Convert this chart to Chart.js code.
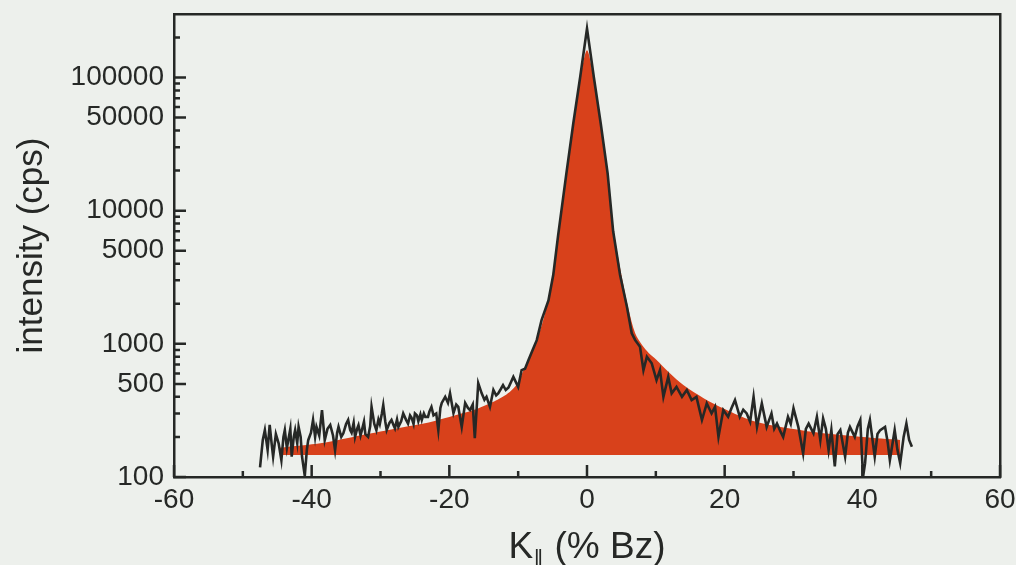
<!DOCTYPE html>
<html>
<head>
<meta charset="utf-8">
<script src="https://cdn.jsdelivr.net/npm/chart.js@4.4.1/dist/chart.umd.min.js"></script>
<style>
  html, body { margin: 0; padding: 0; background: #edf0ec; }
  canvas { display: block; }
</style>
</head>
<body>
<canvas id="chart" width="1016" height="565"></canvas>
<script>
// measured counts (black trace)
const dataX = [
  -47.5, -47.1, -46.8, -46.4, -46.1, -45.8, -45.6, -45.2, -44.8, -44.4,
  -44.1, -43.9, -43.6, -43.4, -43.1, -42.9, -42.6, -42.4, -42.1, -41.9,
  -41.6, -41.4, -41.0, -40.7, -40.5, -40.1, -39.8, -39.5, -39.3, -38.9,
  -38.5, -38.1, -37.7, -37.3, -36.9, -36.6, -36.3, -36.1, -35.7, -35.4,
  -35.0, -34.7, -34.4, -34.2, -33.9, -33.7, -33.4, -33.2, -32.9, -32.7,
  -32.4, -32.2, -31.8, -31.5, -31.3, -30.9, -30.6, -30.3, -30.1, -29.8,
  -29.6, -29.3, -29.1, -28.7, -28.4, -28.1, -27.9, -27.6, -27.4, -27.0,
  -26.7, -26.3, -26.0, -25.7, -25.5, -25.2, -25.0, -24.7, -24.5, -24.2,
  -24.0, -23.7, -23.5, -23.1, -22.9, -22.6, -22.3, -21.9, -21.6, -21.3,
  -21.1, -20.6, -20.2, -19.9, -19.4, -19.0, -18.7, -18.2, -17.7, -17.3,
  -17.0, -16.6, -16.3, -15.8, -15.3, -14.9, -14.6, -14.1, -13.6, -13.2,
  -12.9, -12.5, -12.2, -11.8, -11.4, -10.7, -10.0, -9.5, -9.0, -8.5,
  -7.9, -7.3, -6.6, -5.6, -4.9, -4.2, -3.0, -2.0, -1.0, 0.0,
  1.0, 2.0, 3.0, 3.8, 4.8, 5.8, 6.5, 7.0, 7.7, 8.2,
  8.7, 9.4, 10.1, 10.6, 11.1, 11.8, 12.3, 13.0, 13.8, 14.5,
  15.2, 15.9, 16.7, 17.4, 18.1, 18.6, 19.1, 19.8, 20.5, 21.0,
  21.5, 22.2, 22.7, 23.2, 23.7, 24.2, 24.7, 25.4, 26.1, 26.8,
  27.2, 27.6, 28.1, 28.5, 29.2, 29.6, 30.0, 30.7, 31.4, 31.8,
  32.2, 32.9, 33.4, 33.9, 34.3, 34.7, 35.1, 35.5, 36.0, 36.4,
  36.8, 37.5, 37.9, 38.2, 38.9, 39.3, 39.7, 40.1, 40.4, 40.8,
  41.1, 41.8, 42.2, 42.6, 43.3, 43.7, 44.0, 44.7, 45.1, 45.5,
  46.0, 46.4, 46.8, 47.2
];
const dataY = [
  118, 190, 225, 160, 246, 175, 142, 210, 179, 134,
  200, 225, 165, 189, 230, 142, 200, 225, 180, 238,
  200, 142, 102, 160, 189, 215, 268, 200, 238, 205,
  318, 189, 230, 246, 205, 159, 215, 238, 200, 213,
  250, 268, 225, 215, 255, 200, 230, 245, 205, 225,
  260, 210, 200, 240, 336, 250, 225, 270, 250, 300,
  347, 260, 225, 255, 268, 245, 232, 270, 238, 262,
  300, 270, 252, 290, 280, 250, 300, 290, 262, 295,
  268, 300, 283, 283, 310, 336, 290, 300, 225, 330,
  360, 400, 360, 425, 302, 350, 336, 238, 360, 330,
  318, 350, 196, 507, 425, 380, 400, 336, 450, 410,
  425, 460, 490, 450, 470, 565, 475, 635, 650, 755,
  900, 1066, 1508, 2120, 3300, 6500, 19000, 45000, 100000, 233000,
  100000, 45000, 19000, 7000, 3300, 1900, 1200, 1066, 950, 635,
  800, 715, 534, 635, 400, 565, 425, 475, 400, 450,
  378, 400, 268, 357, 300, 336, 200, 318, 283, 330,
  378, 283, 320, 300, 260, 400, 238, 357, 238, 300,
  230, 252, 220, 200, 283, 250, 328, 238, 150, 230,
  252, 213, 283, 189, 275, 230, 159, 225, 120, 210,
  225, 142, 215, 238, 200, 240, 268, 100, 127, 230,
  268, 142, 210, 225, 238, 180, 134, 225, 160, 127,
  200, 252, 190, 169
];

// fitted curve (red area)
const fitX = [
  -44.6, -38.5, -34, -29, -26, -23, -20, -18, -16, -14,
  -13, -12, -11, -10, -9, -8, -7, -6, -5, -4,
  -3, -2, -1, 0, 1, 2, 3, 4, 5, 6,
  7, 8, 9, 10, 12, 14, 17, 20, 24, 30,
  34, 40, 45.5
];
const fitY = [
  166, 180, 200, 224, 240, 257, 282, 302, 324, 359,
  380, 407, 447, 513, 676, 870, 1175, 1780, 3300, 7500,
  18000, 42000, 95000, 160000, 95000, 42000, 18000, 6500, 3300, 1850,
  1200, 980, 850, 767, 603, 490, 389, 324, 265, 229,
  214, 200, 190
];
const fitBase = 146;

const xMin = -60, xMax = 60;
const yMin = 100, yMax = 300000;
const xMajor = [-60, -40, -20, 0, 20, 40, 60];
const xMinor = [-50, -30, -10, 10, 30, 50];
const yLabels = [100, 500, 1000, 5000, 10000, 50000, 100000];
const yMinor = [200, 300, 400, 600, 700, 800, 900, 2000, 3000, 4000, 6000, 7000, 8000, 9000,
  20000, 30000, 40000, 60000, 70000, 80000, 90000, 200000];

const ink = '#262826';
const tickFont = { family: "'Liberation Sans', sans-serif", size: 28 };

const pts = (xs, ys) => xs.map((x, i) => ({ x, y: ys[i] }));

const background = {
  id: 'background',
  beforeDraw(chart) {
    const ctx = chart.ctx;
    ctx.save();
    ctx.fillStyle = '#edf0ec';
    ctx.fillRect(0, 0, chart.width, chart.height);
    ctx.restore();
  }
};

const inwardTicks = {
  id: 'inwardTicks',
  afterDatasetsDraw(chart) {
    const { ctx, chartArea: a, scales: { x, y } } = chart;
    ctx.save();
    ctx.strokeStyle = ink;
    ctx.lineWidth = 2.5;
    ctx.beginPath();
    xMajor.forEach(v => { const p = x.getPixelForValue(v); ctx.moveTo(p, a.bottom); ctx.lineTo(p, a.bottom - 12); });
    xMinor.forEach(v => { const p = x.getPixelForValue(v); ctx.moveTo(p, a.bottom); ctx.lineTo(p, a.bottom - 6); });
    yLabels.forEach(v => { const p = y.getPixelForValue(v); ctx.moveTo(a.left, p); ctx.lineTo(a.left + 12, p); });
    yMinor.forEach(v => { const p = y.getPixelForValue(v); ctx.moveTo(a.left, p); ctx.lineTo(a.left + 6, p); });
    ctx.stroke();
    ctx.restore();
  }
};

// x title with a subscript
const xTitle = {
  id: 'xTitle',
  afterDraw(chart) {
    const { ctx, chartArea: a } = chart;
    const big = "300 37px 'Liberation Sans', sans-serif";
    const small = "300 22px 'Liberation Sans', sans-serif";
    ctx.save();
    ctx.fillStyle = ink;
    ctx.textBaseline = 'alphabetic';
    ctx.font = big;
    const wK = ctx.measureText('K').width;
    const wRest = ctx.measureText(' (% Bz)').width;
    ctx.font = small;
    const wSub = ctx.measureText('\u2225').width;
    const total = wK + wSub + wRest;
    let cx = (a.left + a.right) / 2 - total / 2;
    const base = a.bottom + 81;
    ctx.font = big;
    ctx.fillText('K', cx, base);
    cx += wK;
    ctx.font = small;
    ctx.fillText('\u2225', cx, base + 8);
    cx += wSub;
    ctx.font = big;
    ctx.fillText(' (% Bz)', cx, base);
    ctx.restore();
  }
};

const noPad = s => { s.paddingTop = 0; s.paddingBottom = 0; s.paddingLeft = 0; s.paddingRight = 0; };

new Chart(document.getElementById('chart'), {
  type: 'line',
  data: {
    datasets: [
      {
        label: 'data',
        data: pts(dataX, dataY),
        borderColor: ink,
        borderWidth: 2.6,
        pointRadius: 0,
        tension: 0,
        fill: false
      },
      {
        label: 'fit',
        data: pts(fitX, fitY),
        borderWidth: 0,
        borderColor: 'rgba(0,0,0,0)',
        backgroundColor: '#d8411b',
        pointRadius: 0,
        tension: 0.3,
        fill: { value: fitBase }
      }
    ]
  },
  options: {
    responsive: false,
    animation: false,
    devicePixelRatio: 1,
    layout: { padding: { left: 0, top: 14, right: 16, bottom: 0 } },
    plugins: { legend: { display: false }, tooltip: { enabled: false } },
    scales: {
      x: {
        type: 'linear',
        min: xMin, max: xMax,
        afterFit: s => { s.height = 88; noPad(s); },
        border: { color: ink, width: 2.5 },
        grid: { display: false, drawTicks: false },
        ticks: { stepSize: 20, color: ink, font: tickFont, padding: 6, maxRotation: 0 }
      },
      y: {
        type: 'logarithmic',
        min: yMin, max: yMax,
        afterFit: s => { s.width = 174; noPad(s); },
        afterBuildTicks: s => { s.ticks = yLabels.map(v => ({ value: v })); },
        border: { color: ink, width: 2.5 },
        grid: { display: false, drawTicks: false },
        ticks: { color: ink, font: tickFont, padding: 10, callback: v => String(v) },
        title: {
          display: true,
          text: 'intensity (cps)',
          color: ink,
          font: { family: "'Liberation Sans', sans-serif", size: 35, weight: '300' },
          padding: { top: 11, bottom: 0 }
        }
      },
      xTop: {
        type: 'linear', position: 'top', min: xMin, max: xMax,
        afterFit: s => { s.height = 0; noPad(s); },
        border: { color: ink, width: 2.5 },
        grid: { display: false, drawTicks: false },
        ticks: { display: false }
      },
      yRight: {
        type: 'logarithmic', position: 'right', min: yMin, max: yMax,
        afterFit: s => { s.width = 0; noPad(s); },
        border: { color: ink, width: 2.5 },
        grid: { display: false, drawTicks: false },
        ticks: { display: false }
      }
    }
  },
  plugins: [background, inwardTicks, xTitle]
});
</script>
</body>
</html>
